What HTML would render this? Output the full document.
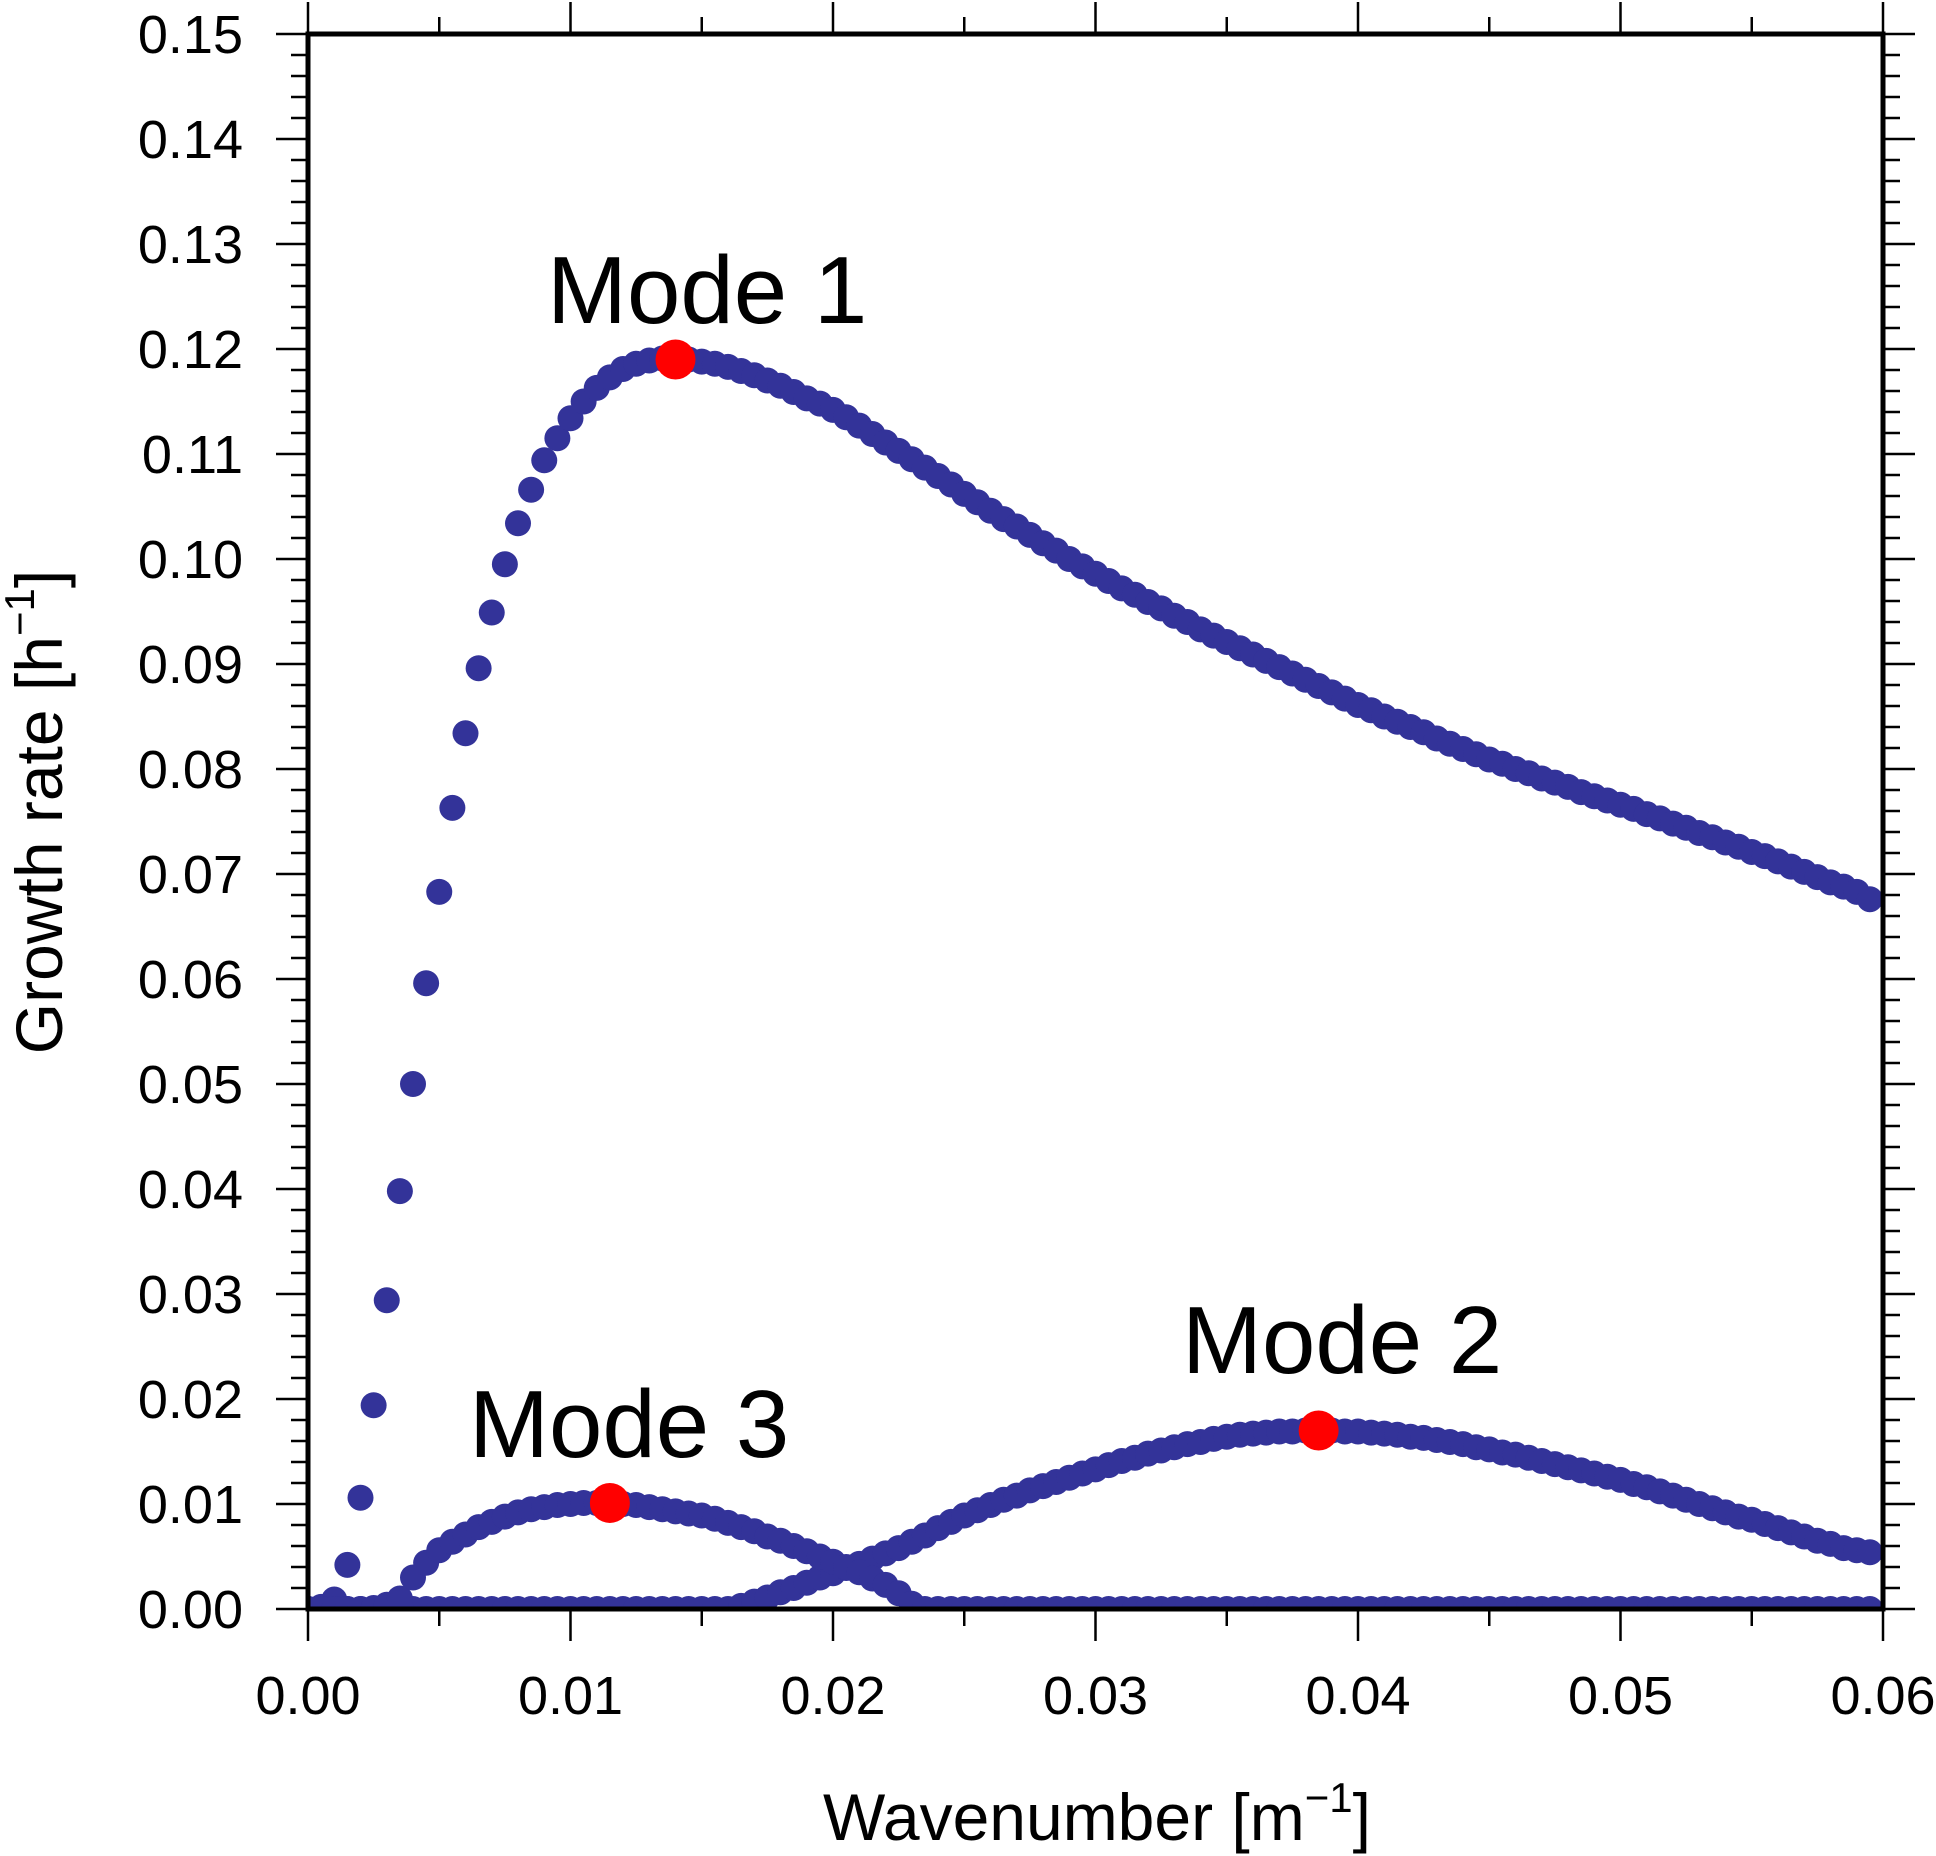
<!DOCTYPE html>
<html><head><meta charset="utf-8"><style>
html,body{margin:0;padding:0;background:#fff;}
svg{display:block;font-family:"Liberation Sans",Arial,sans-serif;}
</style></head><body>
<svg id="chart" width="1936" height="1856" viewBox="0 0 1936 1856" xmlns="http://www.w3.org/2000/svg">
<defs><clipPath id="plotclip"><rect x="308" y="34" width="1575" height="1575"/></clipPath></defs>
<rect x="0" y="0" width="1936" height="1856" fill="#fff"/>
<g id="ticks"></g>
<g id="labels"></g>
<g id="marks" clip-path="url(#plotclip)"></g>
<g id="peaks"></g>
<rect x="308" y="34" width="1575" height="1575" fill="none" stroke="#000" stroke-width="5"/>
<text x="1097" y="1840" font-size="66" text-anchor="middle">Wavenumber [m<tspan font-size="42" dy="-28">−1</tspan><tspan dy="28">]</tspan></text>
<text transform="translate(62,812) rotate(-90)" font-size="66" text-anchor="middle">Growth rate [h<tspan font-size="42" dy="-28">−1</tspan><tspan dy="28">]</tspan></text>
<text x="547" y="323" font-size="96">Mode 1</text>
<text x="1182" y="1373" font-size="96">Mode 2</text>
<text x="469" y="1457" font-size="96">Mode 3</text>
</svg>
<script>
const wavenumber=[0,0.0005,0.001,0.0015,0.002,0.0025,0.003,0.0035,0.004,0.0045,0.005,0.0055,0.006,0.0065,0.007,0.0075,0.008,0.0085,0.009,0.0095,0.01,0.0105,0.011,0.0115,0.012,0.0125,0.013,0.0135,0.014,0.0145,0.015,0.0155,0.016,0.0165,0.017,0.0175,0.018,0.0185,0.019,0.0195,0.02,0.0205,0.021,0.0215,0.022,0.0225,0.023,0.0235,0.024,0.0245,0.025,0.0255,0.026,0.0265,0.027,0.0275,0.028,0.0285,0.029,0.0295,0.03,0.0305,0.031,0.0315,0.032,0.0325,0.033,0.0335,0.034,0.0345,0.035,0.0355,0.036,0.0365,0.037,0.0375,0.038,0.0385,0.039,0.0395,0.04,0.0405,0.041,0.0415,0.042,0.0425,0.043,0.0435,0.044,0.0445,0.045,0.0455,0.046,0.0465,0.047,0.0475,0.048,0.0485,0.049,0.0495,0.05,0.0505,0.051,0.0515,0.052,0.0525,0.053,0.0535,0.054,0.0545,0.055,0.0555,0.056,0.0565,0.057,0.0575,0.058,0.0585,0.059,0.0595];
const mode1=[0,0.0002,0.0009,0.0042,0.0106,0.0194,0.0294,0.0398,0.0500,0.0596,0.0683,0.0763,0.0834,0.0896,0.0949,0.0995,0.1034,0.1066,0.1094,0.1115,0.1134,0.1150,0.1163,0.1173,0.1181,0.1186,0.1189,0.1191,0.1190,0.1190,0.1188,0.1186,0.1183,0.1179,0.1175,0.1170,0.1165,0.1159,0.1153,0.1148,0.1142,0.1135,0.1127,0.1119,0.1111,0.1103,0.1095,0.1087,0.1079,0.1071,0.1062,0.1054,0.1046,0.1038,0.1031,0.1023,0.1015,0.1008,0.1000,0.0993,0.0986,0.0979,0.0972,0.0966,0.0959,0.0953,0.0946,0.0940,0.0933,0.0927,0.0921,0.0915,0.0909,0.0903,0.0897,0.0891,0.0885,0.0879,0.0873,0.0867,0.0861,0.0856,0.0850,0.0845,0.0840,0.0835,0.0829,0.0824,0.0819,0.0814,0.0809,0.0805,0.0800,0.0796,0.0791,0.0787,0.0783,0.0778,0.0774,0.0770,0.0766,0.0762,0.0757,0.0753,0.0748,0.0744,0.0739,0.0735,0.0730,0.0726,0.0721,0.0717,0.0712,0.0707,0.0702,0.0697,0.0692,0.0688,0.0683,0.0676];
const mode2=[0,0,0,0,0,0,0,0,0,0,0,0,0,0,0,0,0,0,0,0,0,0,0,0,0,0,0,0,0,0,0,0,0,0.0003,0.0007,0.0011,0.0016,0.0020,0.0025,0.0030,0.0034,0.0039,0.0043,0.0048,0.0053,0.0058,0.0064,0.0070,0.0077,0.0083,0.0089,0.0094,0.0099,0.0104,0.0108,0.0113,0.0117,0.0121,0.0125,0.0129,0.0133,0.0137,0.0141,0.0144,0.0148,0.0151,0.0154,0.0157,0.0159,0.0162,0.0164,0.0166,0.0167,0.0168,0.0169,0.0169,0.0170,0.0170,0.0170,0.0169,0.0169,0.0168,0.0167,0.0166,0.0164,0.0163,0.0161,0.0159,0.0157,0.0154,0.0152,0.0149,0.0147,0.0144,0.0141,0.0138,0.0135,0.0132,0.0129,0.0126,0.0123,0.0119,0.0116,0.0112,0.0108,0.0104,0.0100,0.0096,0.0092,0.0088,0.0085,0.0081,0.0077,0.0073,0.0069,0.0065,0.0062,0.0058,0.0056,0.0054];
const mode3=[0,0,0,0,0,0.0001,0.0004,0.0010,0.0030,0.0044,0.0056,0.0064,0.0071,0.0078,0.0083,0.0088,0.0092,0.0095,0.0097,0.0099,0.0100,0.0101,0.0101,0.0101,0.0100,0.0099,0.0097,0.0095,0.0093,0.0091,0.0089,0.0086,0.0082,0.0078,0.0074,0.0069,0.0065,0.0060,0.0055,0.0050,0.0045,0.0040,0.0035,0.0029,0.0023,0.0015,0.0005,0,0,0,0,0,0,0,0,0,0,0,0,0,0,0,0,0,0,0,0,0,0,0,0,0,0,0,0,0,0,0,0,0,0,0,0,0,0,0,0,0,0,0,0,0,0,0,0,0,0,0,0,0,0,0,0,0,0,0,0,0,0,0,0,0,0,0,0,0,0,0,0,0,0,0];
const peakK=[0.014,0.0385,0.0115];
const peakG=[0.119,0.0170,0.0101];
const xTickLabels=["0.00","0.01","0.02","0.03","0.04","0.05","0.06"];
const yTickLabels=["0.00","0.01","0.02","0.03","0.04","0.05","0.06","0.07","0.08","0.09","0.10","0.11","0.12","0.13","0.14","0.15"];

const NS="http://www.w3.org/2000/svg";
const X0=308,X1=1883,Y0=1609,Y1=34,XMAX=0.06,YMAX=0.15;
function xs(v){return X0+(X1-X0)*v/XMAX;}
function ys(v){return Y0-(Y0-Y1)*v/YMAX;}
function mk(tag,attrs,parent){const e=document.createElementNS(NS,tag);for(const k in attrs)e.setAttribute(k,attrs[k]);parent.appendChild(e);return e;}

const tg=document.getElementById('ticks');
function tick(x1,y1,x2,y2,name){const l=mk('line',{x1:x1,y1:y1,x2:x2,y2:y2,stroke:'#000','stroke-width':2.5},tg);

}
for(let i=0;i<=12;i++){const v=i*0.005,x=xs(v),len=(i%2===0)?32:17;
 tick(x,Y0,x,Y0+len,'x-tick');tick(x,Y1,x,Y1-len,'x-tick-top');}
for(let i=0;i<=75;i++){const v=i*0.002,y=ys(v),len=(i%5===0)?32:17;
 tick(X0,y,X0-len,y,'y-tick');tick(X1,y,X1+len,y,'y-tick-right');}

const lg=document.getElementById('labels');
xTickLabels.forEach((t,i)=>{const e=mk('text',{x:xs(parseFloat(t)),y:1714,'font-size':54,'text-anchor':'middle'},lg);e.textContent=t;

});
yTickLabels.forEach((t,i)=>{const e=mk('text',{x:243,y:ys(parseFloat(t))+19,'font-size':54,'text-anchor':'end'},lg);e.textContent=t;

});

const mg=document.getElementById('marks');
[[mode1,'mode-1'],[mode2,'mode-2'],[mode3,'mode-3']].forEach(([arr,nm])=>{
 arr.forEach((v,i)=>{const c=mk('circle',{cx:xs(wavenumber[i]),cy:ys(v),r:13,fill:'#333399'},mg);
 
 });
});
const pg=document.getElementById('peaks');
peakK.forEach((k,i)=>{const c=mk('circle',{cx:xs(k),cy:ys(peakG[i]),r:20,fill:'#ff0000'},pg);

});
</script>
</body></html>
